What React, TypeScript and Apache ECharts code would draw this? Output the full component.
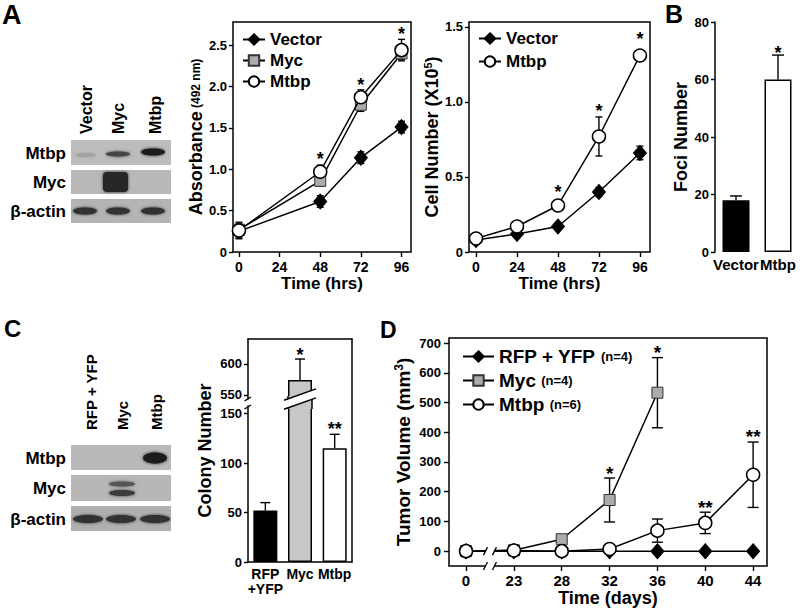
import React, { useEffect, useRef } from 'react';
import * as echarts from 'echarts';

const FONT = '"Liberation Sans", Arial, Helvetica, sans-serif';

// ---------- Panel A (left): absorbance ----------
const absHours = [0, 48, 72, 96];
const absVector = [0.25, 0.61, 1.14, 1.51];
const absVectorErr = [0.08, 0.07, 0.07, 0.07];
const absMyc = [0.27, 0.86, 1.78, 2.4];
const absMycErr = [0.07, 0.06, 0.08, 0.07];
const absMtbp = [0.26, 0.97, 1.87, 2.44];
const absMtbpErr = [0.1, 0.08, 0.09, 0.13];
const absStarHours = [48, 72, 96];
const absStarLevels = [1.18, 2.08, 2.69];
const absTicks = [0, 0.5, 1.0, 1.5, 2.0, 2.5];
const hourTicks = [0, 24, 48, 72, 96];

// ---------- Panel A (right): cell number ----------
const cellHours = [0, 24, 48, 72, 96];
const cellVector = [0.08, 0.12, 0.17, 0.4, 0.66];
const cellVectorErr = [0.03, 0.02, 0.02, 0.03, 0.045];
const cellMtbp = [0.09, 0.17, 0.31, 0.77, 1.31];
const cellMtbpErr = [0.03, 0.03, 0.03, 0.13, 0.03];
const cellStarHours = [48, 72, 96];
const cellStarLevels = [0.43, 0.97, 1.45];
const cellTicks = [0, 0.5, 1.0, 1.5];

// ---------- Panel B ----------
const fociCategories = ['Vector', 'Mtbp'];
const fociValues = [18, 60];
const fociErr = [1.5, 8.5];
const fociColors = ['#000000', '#ffffff'];
const fociStarIdx = [1];
const fociStarLevels = [71];

// ---------- Panel C ----------
const colonyCategories = ['RFP\n+YFP', 'Myc', 'Mtbp'];
const colonyValues = [52, 574, 115];
const colonyErr = [8, 34, 14];
const colonyColors = ['#000000', '#c8c8c8', '#ffffff'];
const colonyLowTicks = [0, 50, 100, 150];
const colonyHighTicks = [550, 600];
const colonyLowStarIdx = [2];
const colonyLowStarLevels = [139];
const colonyHighStarIdx = [1];
const colonyHighStarLevels = [623];

// ---------- Panel D ----------
const dayLabels = ['0', '23', '28', '32', '36', '40', '44'];
const tumorRfp = [0, 0, 0, 0, 0, 0, 0];
const tumorMyc = [0, 3, 40, 172, 533];
const tumorMycErr = [0, 0, 12, 74, 118];
const tumorMtbp = [0, 2, 0, 7, 69, 95, 257];
const tumorMtbpErr = [0, 0, 0, 0, 39, 36, 110];
const tumorN: Record<string, number> = { 'RFP + YFP': 4, Myc: 4, Mtbp: 6 };
const tumorStarIdx = [3, 4, 5, 6];
const tumorStarLevels = [279, 687, 165, 404];
const tumorStarText = ['*', '*', '**', '**'];
const tumorTicks = [0, 100, 200, 300, 400, 500, 600, 700];

// ---------- helpers ----------
const BLACK = '#000';
const tickLine = { lineStyle: { color: BLACK, width: 1.4 } };
const bold = (size: number) => ({ color: BLACK, fontWeight: 'bold', fontFamily: FONT, fontSize: size });

function errorBars(xi: number, yi: number, xs: number[], ys: number[], errs: number[], both: boolean, cap: number, z: number) {
  const data: number[][] = [];
  xs.forEach((x, i) => {
    if (errs[i] > 0) data.push([x, both ? ys[i] - errs[i] : ys[i], ys[i] + errs[i]]);
  });
  return {
    type: 'custom', xAxisIndex: xi, yAxisIndex: yi, z, silent: true, name: 'err' + xi + '_' + yi,
    data,
    renderItem: (_p: any, api: any) => {
      const lo = api.coord([api.value(0), api.value(1)]);
      const hi = api.coord([api.value(0), api.value(2)]);
      const st = { stroke: BLACK, lineWidth: 1.4 };
      const ch: any[] = [
        { type: 'line', shape: { x1: lo[0], y1: lo[1], x2: hi[0], y2: hi[1] }, style: st },
        { type: 'line', shape: { x1: hi[0] - cap, y1: hi[1], x2: hi[0] + cap, y2: hi[1] }, style: st },
      ];
      if (both) ch.push({ type: 'line', shape: { x1: lo[0] - cap, y1: lo[1], x2: lo[0] + cap, y2: lo[1] }, style: st });
      return { type: 'group', children: ch };
    },
  };
}

function stars(xi: number, yi: number, xs: number[], ys: number[], texts: string[], fs: number) {
  return {
    type: 'custom', xAxisIndex: xi, yAxisIndex: yi, z: 6, silent: true, name: 'stars' + xi + '_' + yi,
    data: xs.map((x, i) => [x, ys[i]]),
    renderItem: (p: any, api: any) => {
      const pt = api.coord([api.value(0), api.value(1)]);
      return {
        type: 'text', x: pt[0], y: pt[1] + fs * 0.27,
        style: {
          text: texts[p.dataIndex], fill: BLACK, fontSize: fs, fontWeight: 'bold', fontFamily: FONT,
          align: 'center', verticalAlign: 'middle', textAlign: 'center', textVerticalAlign: 'middle',
        },
      };
    },
  };
}

const diamondStyle = { symbol: 'diamond', symbolSize: [13, 15], itemStyle: { color: '#000', borderColor: '#000', borderWidth: 1 } };
const squareStyle = { symbol: 'rect', symbolSize: 11, itemStyle: { color: '#ababab', borderColor: '#333', borderWidth: 1 } };
const circleStyle = { symbol: 'circle', symbolSize: 13, itemStyle: { color: '#fff', borderColor: '#000', borderWidth: 1.5 } };

function lineSeries(name: string, xi: number, yi: number, xs: number[], ys: number[], sty: any, z: number) {
  return {
    type: 'line', name, xAxisIndex: xi, yAxisIndex: yi, z,
    data: xs.map((x, i) => [x, ys[i]]),
    ...sty,
    lineStyle: { color: BLACK, width: 1.5 },
    emphasis: { disabled: true },
  };
}

const idx = (arr: number[]) => arr.map((_, i) => i);

function text(t: string, x: number, y: number, fs: number, align = 'left', va = 'middle', rotation = 0) {
  return {
    type: 'text', x, y, rotation, z: 100, silent: true,
    style: {
      text: t, fill: BLACK, fontSize: fs, fontWeight: 'bold', fontFamily: FONT,
      align, verticalAlign: va, textAlign: align, textVerticalAlign: va,
    },
  };
}
function band(cx: number, cy: number, rx: number, ry: number, fill: string, blur = 3) {
  return { type: 'ellipse', z: 101, silent: true, shape: { cx, cy, rx, ry }, style: { fill, shadowBlur: blur, shadowColor: fill } };
}
function strip(x: number, y: number, w: number, h: number, fill = '#b9b9b9') {
  return { type: 'rect', z: 100, silent: true, shape: { x, y, width: w, height: h }, style: { fill } };
}
function seg(x1: number, y1: number, x2: number, y2: number, z = 103, w = 1.5) {
  return { type: 'line', z, silent: true, shape: { x1, y1, x2, y2 }, style: { stroke: BLACK, lineWidth: w } };
}

function staticGraphics() {
  const g: any[] = [];
  // panel letters
  g.push(text('A', 2, 15, 27));
  g.push(text('B', 665, 14, 25));
  g.push(text('C', 4, 328, 24));
  g.push(text('D', 380, 330, 23));
  // blot A
  g.push(strip(71, 140, 100, 25, '#bcbcbc'));
  g.push(strip(71, 170, 100, 24, '#b8b8b8'));
  g.push(strip(71, 199, 100, 24, '#b4b4b4'));
  g.push(band(86, 155, 10, 2, '#a2a2a2', 2));
  g.push(band(118, 154, 12, 2.5, '#444'));
  g.push(band(153, 152, 12, 3.5, '#1e1e1e'));
  g.push({ type: 'rect', z: 101, silent: true, shape: { x: 103, y: 172, width: 25, height: 20, r: 4 }, style: { fill: '#262626', shadowBlur: 3, shadowColor: '#262626' } });
  g.push(band(85, 211, 12, 3.5, '#333'));
  g.push(band(118, 211, 12, 3.5, '#333'));
  g.push(band(153, 211, 12, 3.5, '#333'));
  g.push(text('Mtbp', 66, 153, 17, 'right'));
  g.push(text('Myc', 66, 182, 17, 'right'));
  g.push(text('β-actin', 66, 211, 17, 'right'));
  g.push(text('Vector', 86, 134, 16, 'left', 'middle', Math.PI / 2));
  g.push(text('Myc', 118, 134, 16, 'left', 'middle', Math.PI / 2));
  g.push(text('Mtbp', 155, 134, 16, 'left', 'middle', Math.PI / 2));
  // blot C
  g.push(strip(71, 445, 100, 25, '#b9b9b9'));
  g.push(strip(71, 475, 100, 26, '#b7b7b7'));
  g.push(strip(71, 506, 100, 25, '#b0b0b0'));
  g.push(band(155, 458, 12, 5.5, '#1c1c1c'));
  g.push(band(122, 484, 13, 2.5, '#555'));
  g.push(band(122, 493, 13, 3, '#3a3a3a'));
  g.push(band(88, 519, 15, 4, '#333'));
  g.push(band(121, 519, 15, 4, '#333'));
  g.push(band(155, 519, 15, 4, '#333'));
  g.push(text('Mtbp', 66, 458, 17, 'right'));
  g.push(text('Myc', 66, 488, 17, 'right'));
  g.push(text('β-actin', 66, 519, 17, 'right'));
  g.push(text('RFP + YFP', 91, 430, 15, 'left', 'middle', Math.PI / 2));
  g.push(text('Myc', 122, 430, 15, 'left', 'middle', Math.PI / 2));
  g.push(text('Mtbp', 156, 430, 15, 'left', 'middle', Math.PI / 2));
  return g;
}

function buildOption(): any {
  const yLabelFmt = (v: number) => (v === 0 ? '0' : v.toFixed(1));
  const grids = [
    { left: 233, top: 22, width: 178, height: 230, show: true, borderColor: BLACK, borderWidth: 1.5 },
    { left: 469, top: 22, width: 181, height: 230, show: true, borderColor: BLACK, borderWidth: 1.5 },
    { left: 715, top: 22, width: 84, height: 230 },
    { left: 248, top: 339, width: 104, height: 223 },
    { left: 248, top: 339, width: 104, height: 60 },
    { left: 248, top: 406, width: 104, height: 156 },
    { left: 449, top: 338, width: 318, height: 228, show: true, borderColor: BLACK, borderWidth: 1.5 },
  ];
  const hidden = { show: false };
  const noLine = { show: false, onZero: false };
  const solid = { show: true, onZero: false, lineStyle: { color: BLACK, width: 1.5 } };
  const xAxis: any[] = [
    {
      gridIndex: 0, type: 'value', min: -3.5, max: 101.6, axisLine: noLine, splitLine: hidden,
      axisTick: { show: true, length: 5, customValues: hourTicks, ...tickLine },
      axisLabel: { customValues: hourTicks, margin: 8, ...bold(14) },
      name: 'Time (hrs)', nameLocation: 'middle', nameGap: 21, nameTextStyle: bold(17),
    },
    {
      gridIndex: 1, type: 'value', min: -4.1, max: 101.9, axisLine: noLine, splitLine: hidden,
      axisTick: { show: true, length: 5, customValues: hourTicks, ...tickLine },
      axisLabel: { customValues: hourTicks, margin: 8, ...bold(14) },
      name: 'Time (hrs)', nameLocation: 'middle', nameGap: 21, nameTextStyle: bold(17),
    },
    {
      gridIndex: 2, type: 'category', data: fociCategories, axisLine: noLine, axisTick: hidden,
      axisLabel: { interval: 0, margin: 5, ...bold(15) },
    },
    { gridIndex: 3, type: 'value', position: 'top', min: 0, max: 1, axisLine: solid, axisTick: hidden, axisLabel: hidden, splitLine: hidden },
    { gridIndex: 4, type: 'category', data: colonyCategories, show: false },
    {
      gridIndex: 5, type: 'category', data: colonyCategories, axisLine: solid, axisTick: hidden,
      axisLabel: { interval: 0, margin: 4, lineHeight: 15, ...bold(14) },
    },
    {
      gridIndex: 6, type: 'value', min: -0.356, max: 6.29, axisLine: noLine, splitLine: hidden,
      axisTick: { show: true, length: 5, customValues: idx(dayLabels), ...tickLine },
      axisLabel: { customValues: idx(dayLabels), margin: 7, formatter: (v: number) => dayLabels[Math.round(v)], ...bold(15) },
      name: 'Time (days)', nameLocation: 'middle', nameGap: 22, nameTextStyle: bold(18),
    },
  ];
  const yAxis: any[] = [
    {
      gridIndex: 0, type: 'value', min: 0, max: 2.78, axisLine: noLine, splitLine: hidden,
      axisTick: { show: true, length: 4, customValues: absTicks, ...tickLine },
      axisLabel: { customValues: absTicks, margin: 6, formatter: yLabelFmt, ...bold(13) },
      name: '{a|Absorbance} {b|(492 nm)}', nameLocation: 'middle', nameRotate: 90, nameGap: 27,
      nameTextStyle: { rich: { a: bold(18), b: bold(12) } },
    },
    {
      gridIndex: 1, type: 'value', min: 0, max: 1.533, axisLine: noLine, splitLine: hidden,
      axisTick: { show: true, length: 4, customValues: cellTicks, ...tickLine },
      axisLabel: { customValues: cellTicks, margin: 6, formatter: yLabelFmt, ...bold(13) },
      name: '{a|Cell Number (X10}{s|5}{a|)}', nameLocation: 'middle', nameRotate: 90, nameGap: 28,
      nameTextStyle: { rich: { a: bold(18), s: { ...bold(11), padding: [0, 0, 8, 0] } } },
    },
    {
      gridIndex: 2, type: 'value', min: 0, max: 80, interval: 20, splitLine: hidden,
      axisLine: solid,
      axisTick: { show: true, length: 4, ...tickLine },
      axisLabel: { margin: 6, ...bold(13) },
      name: 'Foci Number', nameLocation: 'middle', nameRotate: 90, nameGap: 25, nameTextStyle: bold(18),
    },
    {
      gridIndex: 3, type: 'value', min: 0, max: 1, axisLine: noLine, axisTick: hidden, axisLabel: hidden, splitLine: hidden,
      name: 'Colony Number', nameLocation: 'middle', nameRotate: 90, nameGap: 34, nameTextStyle: bold(18),
    },
    { gridIndex: 3, type: 'value', position: 'right', min: 0, max: 1, axisLine: solid, axisTick: hidden, axisLabel: hidden, splitLine: hidden },
    {
      gridIndex: 4, type: 'value', min: 543.5, max: 640.3, splitLine: hidden,
      axisLine: solid,
      axisTick: { show: true, length: 4, customValues: colonyHighTicks, ...tickLine },
      axisLabel: { customValues: colonyHighTicks, margin: 6, ...bold(13) },
    },
    {
      gridIndex: 5, type: 'value', min: 0, max: 157.6, splitLine: hidden,
      axisLine: solid,
      axisTick: { show: true, length: 4, customValues: colonyLowTicks, ...tickLine },
      axisLabel: { customValues: colonyLowTicks, margin: 6, ...bold(13) },
    },
    {
      gridIndex: 6, type: 'value', min: -50, max: 717, axisLine: noLine, splitLine: hidden,
      axisTick: { show: true, length: 5, customValues: tumorTicks, ...tickLine },
      axisLabel: { customValues: tumorTicks, margin: 8, ...bold(13) },
      name: '{a|Tumor Volume (mm}{s|3}{a|)}', nameLocation: 'middle', nameRotate: 90, nameGap: 36,
      nameTextStyle: { rich: { a: bold(19), s: { ...bold(12), padding: [0, 0, 8, 0] } } },
    },
  ];

  const dIdx = idx(dayLabels);
  const series: any[] = [
    // A left
    errorBars(0, 0, absHours, absVector, absVectorErr, true, 3.5, 1),
    errorBars(0, 0, absHours, absMyc, absMycErr, true, 3.5, 1),
    errorBars(0, 0, absHours, absMtbp, absMtbpErr, true, 3.5, 1),
    lineSeries('Vector', 0, 0, absHours, absVector, diamondStyle, 3),
    lineSeries('Myc', 0, 0, absHours, absMyc, squareStyle, 4),
    lineSeries('Mtbp', 0, 0, absHours, absMtbp, circleStyle, 5),
    stars(0, 0, absStarHours, absStarLevels, ['*', '*', '*'], 18),
    // A right
    errorBars(1, 1, cellHours, cellVector, cellVectorErr, true, 3.5, 1),
    errorBars(1, 1, cellHours, cellMtbp, cellMtbpErr, true, 3.5, 1),
    lineSeries('Vector', 1, 1, cellHours, cellVector, diamondStyle, 3),
    lineSeries('Mtbp', 1, 1, cellHours, cellMtbp, circleStyle, 5),
    stars(1, 1, cellStarHours, cellStarLevels, ['*', '*', '*'], 18),
    // B
    {
      type: 'bar', name: 'Foci', xAxisIndex: 2, yAxisIndex: 2, barWidth: 27, z: 2,
      data: fociValues.map((v, i) => ({ value: v, itemStyle: { color: fociColors[i] } })),
      itemStyle: { borderColor: BLACK, borderWidth: 1.5 },
      emphasis: { disabled: true },
    },
    errorBars(2, 2, idx(fociValues), fociValues, fociErr, false, 6, 3),
    stars(2, 2, fociStarIdx, fociStarLevels, ['*'], 18),
    // C
    {
      type: 'bar', name: 'ColonyHigh', xAxisIndex: 4, yAxisIndex: 5, barWidth: 24, z: 2, clip: true,
      data: colonyValues.map((v, i) => (v > 500 ? { value: v, itemStyle: { color: colonyColors[i] } } : '-')),
      itemStyle: { borderColor: BLACK, borderWidth: 1.5 },
      emphasis: { disabled: true },
    },
    {
      type: 'bar', name: 'ColonyLow', xAxisIndex: 5, yAxisIndex: 6, barWidth: 24, z: 2, clip: true,
      data: colonyValues.map((v, i) => ({ value: v, itemStyle: { color: colonyColors[i] } })),
      itemStyle: { borderColor: BLACK, borderWidth: 1.5 },
      emphasis: { disabled: true },
    },
    errorBars(5, 6, [0, 2], [colonyValues[0], colonyValues[2]], [colonyErr[0], colonyErr[2]], false, 5, 3),
    errorBars(4, 5, [1], [colonyValues[1]], [colonyErr[1]], false, 5, 3),
    stars(5, 6, colonyLowStarIdx, colonyLowStarLevels, ['**'], 18),
    stars(4, 5, colonyHighStarIdx, colonyHighStarLevels, ['*'], 18),
    // D
    errorBars(6, 7, idx(tumorMyc), tumorMyc, tumorMycErr, true, 5.5, 1),
    errorBars(6, 7, idx(tumorMtbp), tumorMtbp, tumorMtbpErr, true, 5.5, 1),
    lineSeries('RFP + YFP', 6, 7, dIdx, tumorRfp, diamondStyle, 3),
    lineSeries('Myc', 6, 7, idx(tumorMyc), tumorMyc, squareStyle, 4),
    lineSeries('Mtbp', 6, 7, dIdx, tumorMtbp, circleStyle, 5),
    stars(6, 7, tumorStarIdx, tumorStarLevels, tumorStarText, 19),
  ];

  const legendBase = {
    orient: 'vertical', selectedMode: false, itemHeight: 13, padding: 0,
    textStyle: bold(17),
  };
  const legend = [
    { ...legendBase, left: 242, top: 31, itemWidth: 22, itemGap: 4, data: ['Vector', 'Myc', 'Mtbp'] },
    { ...legendBase, left: 478, top: 30, itemWidth: 22, itemGap: 6, data: ['Vector', 'Mtbp'] },
    {
      ...legendBase, left: 462, top: 347, itemWidth: 31, itemGap: 5, data: ['RFP + YFP', 'Myc', 'Mtbp'],
      formatter: (n: string) => `{a|${n}} {b|(n=${tumorN[n]})}`,
      textStyle: { ...bold(19), rich: { a: bold(19), b: bold(13) } },
    },
  ];

  return {
    animation: false,
    backgroundColor: '#fff',
    textStyle: { fontFamily: FONT },
    grid: grids,
    xAxis,
    yAxis,
    legend,
    series,
  };
}

export default function App() {
  const ref = useRef<HTMLDivElement>(null);
  useEffect(() => {
    if (!ref.current) return;
    const chart = echarts.init(ref.current, undefined, { renderer: 'svg' });
    chart.setOption(buildOption());

    const g = staticGraphics();
    // C: broken Myc bar and broken y-axis
    const cx = (chart.convertToPixel({ gridIndex: 5 } as any, [1, 0]) as number[])[0];
    const upBottom = 399;
    const lowTop = 406;
    const hw = 12;
    g.push({ type: 'rect', z: 100, silent: true, shape: { x: cx - hw, y: upBottom - 3, width: hw * 2, height: lowTop - upBottom + 6 }, style: { fill: colonyColors[1] } });
    g.push(seg(cx - hw, upBottom - 3, cx - hw, lowTop + 3, 101));
    g.push(seg(cx + hw, upBottom - 3, cx + hw, lowTop + 3, 101));
    g.push({ type: 'polygon', z: 102, silent: true, shape: { points: [[cx - 13.5, 399.4], [cx + 13.5, 389.8], [cx + 13.5, 398.8], [cx - 13.5, 408.4]] }, style: { fill: '#fff' } });
    g.push(seg(cx - 16, 400.3, cx + 16, 388.9, 103));
    g.push(seg(cx - 16, 409.3, cx + 16, 397.9, 103));
    g.push(seg(244.5, 401, 251, 397, 103, 1.4));
    g.push(seg(244.5, 409, 251, 405, 103, 1.4));
    // D: broken x-axis between day 0 and day 23
    const p = chart.convertToPixel({ gridIndex: 6 } as any, [0.5, 0]) as number[];
    const pb = chart.convertToPixel({ gridIndex: 6 } as any, [0.5, -50]) as number[];
    const bx = p[0];
    for (const yy of [p[1], pb[1]]) {
      g.push({ type: 'rect', z: 100, silent: true, shape: { x: bx - 4, y: yy - 5, width: 8, height: 10 }, style: { fill: '#fff' } });
      g.push(seg(bx - 6.5, yy + 4, bx - 2.5, yy - 4, 103, 1.3));
      g.push(seg(bx + 2.5, yy + 4, bx + 6.5, yy - 4, 103, 1.3));
    }
    chart.setOption({ graphic: { elements: g } });
    return () => chart.dispose();
  }, []);
  return <div ref={ref} style={{ position: 'absolute', left: 0, top: 0, width: 800, height: 609 }} />;
}
